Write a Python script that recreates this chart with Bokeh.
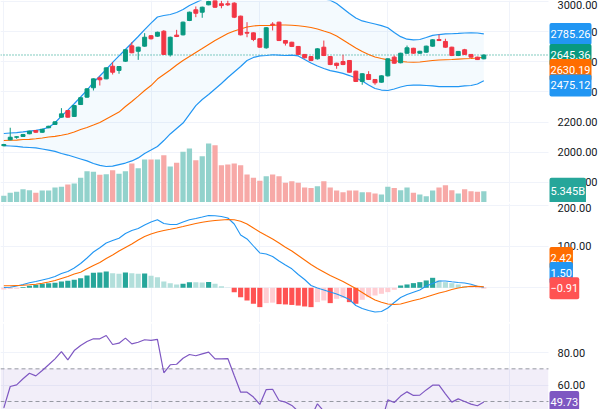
from bokeh.plotting import figure
from bokeh.models import (Range1d, LinearAxis, FixedTicker, Grid, Span, Label,
                          NumeralTickFormatter, ColumnDataSource, BoxAnnotation)
from bokeh.layouts import column
from bokeh.embed import file_html
from bokeh.resources import INLINE

# ---------------- data ----------------
opens = [2044, 2083, 2100, 2105, 2123, 2145, 2133, 2163, 2185, 2233, 2277, 2238, 2317, 2366, 2428, 2494,
         2487, 2571, 2543, 2604, 2706, 2670, 2704, 2773, 2770, 2803, 2647, 2777, 2779, 2874, 2945, 2929,
         2978, 3007, 2985, 2985, 2989, 2903, 2795, 2792, 2753, 2693, 2850, 2863, 2741, 2730, 2702, 2649,
         2635, 2620, 2697, 2635, 2591, 2602, 2609, 2538, 2470, 2516, 2483, 2465, 2507, 2631, 2594, 2657,
         2690, 2657, 2664, 2704, 2748, 2735, 2697, 2642, 2680, 2649, 2631, 2620]
highs = [2056, 2163, 2106, 2122, 2143, 2148, 2156, 2176, 2205, 2293, 2280, 2313, 2365, 2425, 2490, 2503,
         2563, 2598, 2572, 2684, 2730, 2700, 2790, 2777, 2800, 2810, 2767, 2812, 2867, 2933, 2967, 2966,
         3005, 3012, 3005, 3007, 2995, 2906, 2863, 2795, 2756, 2830, 2863, 2866, 2745, 2733, 2705, 2652,
         2638, 2690, 2741, 2638, 2594, 2647, 2612, 2541, 2524, 2538, 2486, 2510, 2623, 2642, 2660, 2708,
         2693, 2673, 2707, 2750, 2781, 2753, 2700, 2672, 2686, 2652, 2634, 2648]
lows = [2040, 2080, 2090, 2102, 2120, 2130, 2130, 2160, 2182, 2230, 2230, 2235, 2314, 2362, 2410, 2443,
        2485, 2516, 2521, 2600, 2657, 2613, 2700, 2748, 2766, 2645, 2635, 2764, 2775, 2870, 2896, 2892,
        2975, 2958, 2955, 2970, 2890, 2775, 2763, 2737, 2693, 2687, 2808, 2738, 2708, 2698, 2645, 2622,
        2604, 2615, 2638, 2578, 2554, 2578, 2527, 2466, 2448, 2480, 2448, 2462, 2503, 2588, 2590, 2654,
        2654, 2654, 2660, 2700, 2738, 2694, 2638, 2638, 2645, 2628, 2612, 2617]
closes = [2052, 2100, 2103, 2118, 2140, 2133, 2153, 2173, 2202, 2255, 2233, 2310, 2362, 2421, 2487, 2481,
          2560, 2531, 2569, 2680, 2660, 2697, 2763, 2753, 2796, 2649, 2763, 2768, 2863, 2929, 2922, 2962,
          3000, 2962, 2973, 2978, 2896, 2779, 2790, 2748, 2697, 2826, 2846, 2741, 2724, 2702, 2649, 2627,
          2609, 2686, 2642, 2582, 2576, 2582, 2531, 2470, 2521, 2483, 2461, 2507, 2620, 2591, 2657, 2693,
          2657, 2670, 2704, 2746, 2741, 2697, 2642, 2669, 2649, 2631, 2615, 2645.36]
volume_b = [3.2, 4.6, 5.1, 6.3, 5.8, 4.6, 5.7, 5.7, 7.1, 7.4, 8.5, 9.0, 11.7, 14.8, 14.5, 13.1,
            13.4, 15.3, 13.6, 14.8, 18.4, 16.2, 20.3, 20.3, 20.3, 22.4, 17.0, 18.8, 24.0, 25.5, 20.0, 21.9,
            27.9, 27.1, 17.6, 18.0, 18.4, 17.6, 13.2, 11.7, 10.3, 12.4, 13.2, 12.4, 9.3, 10.1, 9.3, 7.1,
            6.8, 7.7, 10.1, 7.1, 5.7, 4.9, 5.7, 5.7, 4.9, 4.9, 4.3, 3.8, 7.4, 6.8, 5.8, 7.1,
            4.6, 3.8, 3.0, 5.7, 7.1, 8.2, 5.8, 4.3, 6.3, 5.3, 5.1, 5.345]
bb_upper = [2125, 2128, 2131, 2135, 2141, 2145, 2153, 2165, 2196, 2240, 2280, 2322, 2367, 2413, 2463, 2506,
            2549, 2596, 2639, 2682, 2725, 2768, 2814, 2857, 2897, 2907, 2914, 2927, 2947, 2973, 2993, 3013,
            3030, 3050, 3068, 3082, 3092, 3098, 3100, 3098, 3094, 3088, 3080, 3072, 3062, 3052, 3044, 3036,
            3030, 3024, 3018, 3008, 2987, 2954, 2920, 2891, 2871, 2861, 2851, 2840, 2826, 2795, 2767, 2750,
            2745, 2748, 2761, 2775, 2781, 2785, 2786, 2788, 2791, 2792, 2791, 2785.26]
bb_basis = [2078, 2080, 2081, 2085, 2086, 2090, 2095, 2102, 2106, 2113, 2122, 2135, 2151, 2165, 2181, 2198,
            2221, 2244, 2267, 2304, 2337, 2373, 2410, 2443, 2486, 2516, 2546, 2579, 2609, 2635, 2662, 2688,
            2715, 2741, 2765, 2788, 2804, 2818, 2831, 2838, 2841, 2841, 2842, 2844, 2844, 2843, 2839, 2834,
            2828, 2818, 2804, 2791, 2771, 2745, 2718, 2692, 2668, 2649, 2632, 2622, 2613, 2607, 2602, 2599,
            2597, 2599, 2604, 2609, 2612, 2614, 2615, 2618, 2620, 2622, 2625, 2630.19]
bb_lower = [2045, 2042, 2039, 2035, 2032, 2029, 2022, 2015, 2006, 1992, 1982, 1969, 1956, 1943, 1926, 1914,
            1906, 1909, 1919, 1929, 1943, 1963, 1992, 2015, 2039, 2078, 2122, 2158, 2194, 2251, 2310, 2350,
            2383, 2420, 2456, 2496, 2533, 2569, 2609, 2629, 2639, 2642, 2647, 2645, 2642, 2645, 2639, 2615,
            2592, 2572, 2556, 2542, 2533, 2523, 2509, 2493, 2473, 2446, 2423, 2413, 2410, 2420, 2433, 2443,
            2446, 2446, 2443, 2440, 2436, 2436, 2436, 2436, 2440, 2443, 2453, 2475.12]
macd_line = [0.7, 1.5, 4.4, 8.0, 12.1, 15.3, 18.9, 22.5, 27.4, 34.6, 39.5, 47.9, 58.8, 72.2, 86.7, 96.9,
             108.5, 114.5, 119.9, 131.5, 138.7, 143.6, 152.1, 159.3, 164.6, 155.7, 153.3, 153.3, 159.3, 164.6, 167.8, 171.4,
             175.1, 174.3, 172.6, 169.0, 154.5, 127.8, 118.2, 101.2, 84.3, 81.8, 75.8, 64.9, 55.2, 46.0, 32.2, 20.1,
             5.6, -0.5, -5.3, -10.2, -15.0, -21.1, -28.3, -42.9, -50.1, -55.0, -58.6, -57.4, -48.9, -35.6, -23.5, -16.2,
             -10.7, -5.3, 4.4, 10.4, 16.5, 16.5, 14.5, 12.8, 11.6, 8.5, 3.9, 1.50]
macd_signal = [4.8, 5.1, 5.6, 6.1, 7.3, 8.7, 10.9, 14.0, 17.7, 22.5, 27.4, 33.4, 37.8, 46.0, 54.0, 61.3,
               70.9, 79.4, 89.1, 97.6, 106.1, 115.7, 124.2, 130.3, 135.1, 138.7, 141.6, 144.8, 148.4, 152.1, 155.7, 158.8,
               161.3, 163.0, 164.2, 165.4, 164.6, 161.3, 154.5, 144.8, 135.1, 126.6, 118.2, 108.5, 98.3, 89.1, 78.2, 67.3,
               56.4, 46.7, 38.3, 29.8, 22.5, 15.3, 6.8, -1.7, -11.4, -21.1, -29.5, -35.1, -39.2, -40.4, -39.2, -34.9,
               -30.8, -27.1, -22.3, -17.4, -12.6, -9.0, -4.1, -0.5, 1.9, 3.6, 3.4, 2.42]
macd_hist = [-4.0, -3.0, -2.0, 2.0, 4.8, 7.3, 9.7, 11.3, 12.1, 15.3, 17.0, 19.4, 23.4, 29.9, 36.3, 36.8,
             39.5, 35.5, 33.9, 37.1, 35.5, 33.9, 34.5, 29.0, 25.8, 15.3, 11.3, 8.1, 9.7, 13.7, 13.2, 12.9,
             13.8, 9.7, 4.0, 0.5, -10.5, -22.6, -30.7, -38.7, -46.8, -37.0, -36.0, -39.5, -40.3, -41.5, -43.0, -45.2,
             -46.8, -34.7, -30.7, -37.1, -26.6, -24.2, -34.7, -38.7, -29.0, -22.6, -18.6, -14.5, -10.5, -4.8, 5.6, 8.1,
             11.3, 13.7, 17.8, 24.2, 17.8, 13.7, 11.3, 8.1, 4.0, -0.3, -0.6, -0.91]
rsi = [46.1, 59.2, 60.2, 63.9, 67.3, 65.7, 69.0, 72.5, 76.1, 80.6, 75.5, 81.2, 84.3, 86.7, 88.4, 88.4,
       90.4, 84.9, 85.7, 88.8, 85.3, 86.3, 87.8, 87.4, 88.0, 67.6, 72.5, 72.8, 76.5, 78.8, 78.0, 79.2,
       80.2, 76.1, 76.1, 76.3, 65.9, 55.7, 55.7, 52.7, 48.2, 57.3, 57.5, 50.6, 49.6, 47.6, 44.0, 42.0,
       40.5, 48.6, 44.0, 40.0, 38.5, 38.0, 34.0, 29.5, 35.0, 33.0, 31.5, 37.0, 51.0, 49.4, 53.3, 55.9,
       53.7, 53.9, 57.1, 60.0, 60.0, 54.7, 49.6, 51.6, 50.0, 48.4, 47.4, 49.73]
price_ticks = [1800, 2000, 2200, 2400, 2600, 2800, 3000]
macd_ticks = [-100, 0, 100, 200]
rsi_ticks = [40, 60, 80, 100]
rsi_levels = [70, 50, 30]
time_grid = [0, 23, 40, 60, 79]

# ---------------- styling ----------------
UP, DOWN = "#089981", "#F23645"
VOL_UP, VOL_DOWN = "#92d2cc", "#f7a9a7"
BLUE, ORANGE, PURPLE = "#2196F3", "#FF6D00", "#7E57C2"
GRID = "#f0f3fa"
TXT = "#131722"
FONT = "Roboto"
FS = "11px"
W = 606
PX_PER_BAR = 6.4
X0 = -0.52
XR = (X0, X0 + W / PX_PER_BAR)          # full-width frame
AXIS_X = X0 + 548 / PX_PER_BAR           # price scale starts here
TAG_X = 549                              # screen px of the value-tag box
TAG_PAD = (1, 7)

n = len(closes)
xs = list(range(n))

up = [c >= o for o, c in zip(opens, closes)]
src = ColumnDataSource(dict(
    x=xs, o=opens, h=highs, l=lows, c=closes, v=volume_b,
    bt=[max(o, c) for o, c in zip(opens, closes)],
    bb=[min(o, c) for o, c in zip(opens, closes)],
    col=[UP if u else DOWN for u in up],
    vcol=[VOL_UP if u else VOL_DOWN for u in up],
    bu=bb_upper, bm=bb_basis, bl=bb_lower,
    m=macd_line, s=macd_signal, hi=macd_hist, r=rsi,
))
hcol = []
for i, hv in enumerate(macd_hist):
    prev = macd_hist[i - 1] if i > 0 else hv - 1
    if hv >= 0:
        hcol.append("#26A69A" if hv > prev else "#B2DFDB")
    else:
        hcol.append("#FF5252" if hv < prev else "#FFCDD2")
src.data["hcol"] = hcol


def make_fig(h, yr):
    p = figure(width=W, height=h, x_range=Range1d(*XR), y_range=Range1d(*yr),
               toolbar_location=None, output_backend="svg",
               x_axis_location=None, y_axis_location=None, min_border=0)
    p.outline_line_color = None
    p.background_fill_color = "white"
    p.border_fill_color = "white"
    for r in list(p.center):
        if isinstance(r, Grid):
            r.visible = False
    return p


def add_axis(p, ticks):
    p.add_layout(Grid(dimension=1, ticker=FixedTicker(ticks=ticks), grid_line_color=GRID))
    p.add_layout(Grid(dimension=0, ticker=FixedTicker(ticks=time_grid), grid_line_color=GRID))
    ax = LinearAxis(ticker=FixedTicker(ticks=ticks), formatter=NumeralTickFormatter(format="0.00"),
                    fixed_location=AXIS_X)
    ax.axis_line_color = None
    ax.major_tick_line_color = None
    ax.minor_tick_line_color = None
    ax.major_tick_out = 0
    ax.major_tick_in = 0
    ax.major_label_standoff = 9
    ax.major_label_text_font = FONT
    ax.major_label_text_font_size = FS
    ax.major_label_text_color = TXT
    p.add_layout(ax, "right")


def cover_scale(p):
    # blank the price-scale strip so grid lines stop where the chart area ends
    p.add_layout(BoxAnnotation(left=AXIS_X, fill_color="white", fill_alpha=1.0,
                               line_color=None, level="underlay"))


def tag(p, y, text, color, y_offset=0, y_range_name="default"):
    p.add_layout(Label(x=TAG_X, y=y, x_units="screen", y_units="data", text=text,
                       y_range_name=y_range_name, y_offset=y_offset,
                       text_color="white", text_font=FONT, text_font_size=FS,
                       text_baseline="middle", text_align="left",
                       background_fill_color=color, padding=TAG_PAD, border_radius=2))


# ---------------- main pane ----------------
main = make_fig(202, (1667.4, 3006.6))
main.extra_y_ranges = {"vol": Range1d(0, 95.55)}
add_axis(main, price_ticks)
main.add_layout(Span(location=closes[-1], dimension="width", line_color=UP, line_dash="1 2",
                     line_width=1, level="underlay"))
cover_scale(main)
main.vbar(x="x", top="v", bottom=0, width=0.82, fill_color="vcol", line_color=None,
          y_range_name="vol", source=src)
main.varea(x="x", y1="bl", y2="bu", fill_color=BLUE, fill_alpha=0.05, source=src)
main.line(x="x", y="bu", line_color=BLUE, line_width=1.2, source=src)
main.line(x="x", y="bl", line_color=BLUE, line_width=1.2, source=src)
main.line(x="x", y="bm", line_color=ORANGE, line_width=1.1, source=src)
main.segment(x0="x", y0="l", x1="x", y1="h", line_color="col", line_width=1, source=src)
main.vbar(x="x", top="bt", bottom="bb", width=0.62, fill_color="col", line_color="col", line_width=1, source=src)
tag(main, bb_upper[-1], f"{bb_upper[-1]:.2f}", BLUE)
tag(main, closes[-1], f"{closes[-1]:.2f}", UP)
tag(main, bb_basis[-1], f"{bb_basis[-1]:.2f}", ORANGE, y_offset=-12.7)
tag(main, bb_lower[-1], f"{bb_lower[-1]:.2f}", BLUE, y_offset=-4.8)
tag(main, volume_b[-1], f"{volume_b[-1]:.3f}B", "#26a69a", y_range_name="vol")

# ---------------- MACD pane ----------------
macd = make_fig(119, (-84.0, 204.1))
add_axis(macd, macd_ticks)
cover_scale(macd)
macd.vbar(x="x", top="hi", bottom=0, width=0.8, fill_color="hcol", line_color=None, source=src)
macd.line(x="x", y="m", line_color=BLUE, line_width=1.1, source=src)
macd.line(x="x", y="s", line_color=ORANGE, line_width=1.1, source=src)
tag(macd, macd_signal[-1], f"{macd_signal[-1]:.2f}", ORANGE, y_offset=28.8)
tag(macd, macd_line[-1], f"{macd_line[-1]:.2f}", BLUE, y_offset=14.2)
tag(macd, macd_hist[-1], f"{macd_hist[-1]:.2f}".replace("-", "\u2212"), "#FF5252")

# ---------------- RSI pane ----------------
rsip = make_fig(86, (45.1, 97.76))
add_axis(rsip, rsi_ticks)
rsip.add_layout(BoxAnnotation(bottom=rsi_levels[-1], top=rsi_levels[0], right=AXIS_X,
                              fill_color=PURPLE, fill_alpha=0.1, line_color=None, level="underlay"))
rsip.segment(x0=[XR[0]] * 3, x1=[AXIS_X] * 3, y0=rsi_levels, y1=rsi_levels,
             line_color="#9598a1", line_dash="4 3", line_width=1)
cover_scale(rsip)
rsip.line(x="x", y="r", line_color=PURPLE, line_width=1.2, source=src)
tag(rsip, rsi[-1], f"{rsi[-1]:.2f}", PURPLE)


def separator():
    s = figure(width=W, height=1, toolbar_location=None, output_backend="svg",
               x_axis_location=None, y_axis_location=None, min_border=0,
               x_range=Range1d(0, 1), y_range=Range1d(0, 1))
    s.outline_line_color = None
    s.background_fill_color = "#e0e3eb"
    s.border_fill_color = "#e0e3eb"
    for r in list(s.center):
        if isinstance(r, Grid):
            r.visible = False
    return s


layout = column(main, separator(), macd, separator(), rsip, spacing=0)
open("out.html", "w").write(file_html(layout, INLINE))
